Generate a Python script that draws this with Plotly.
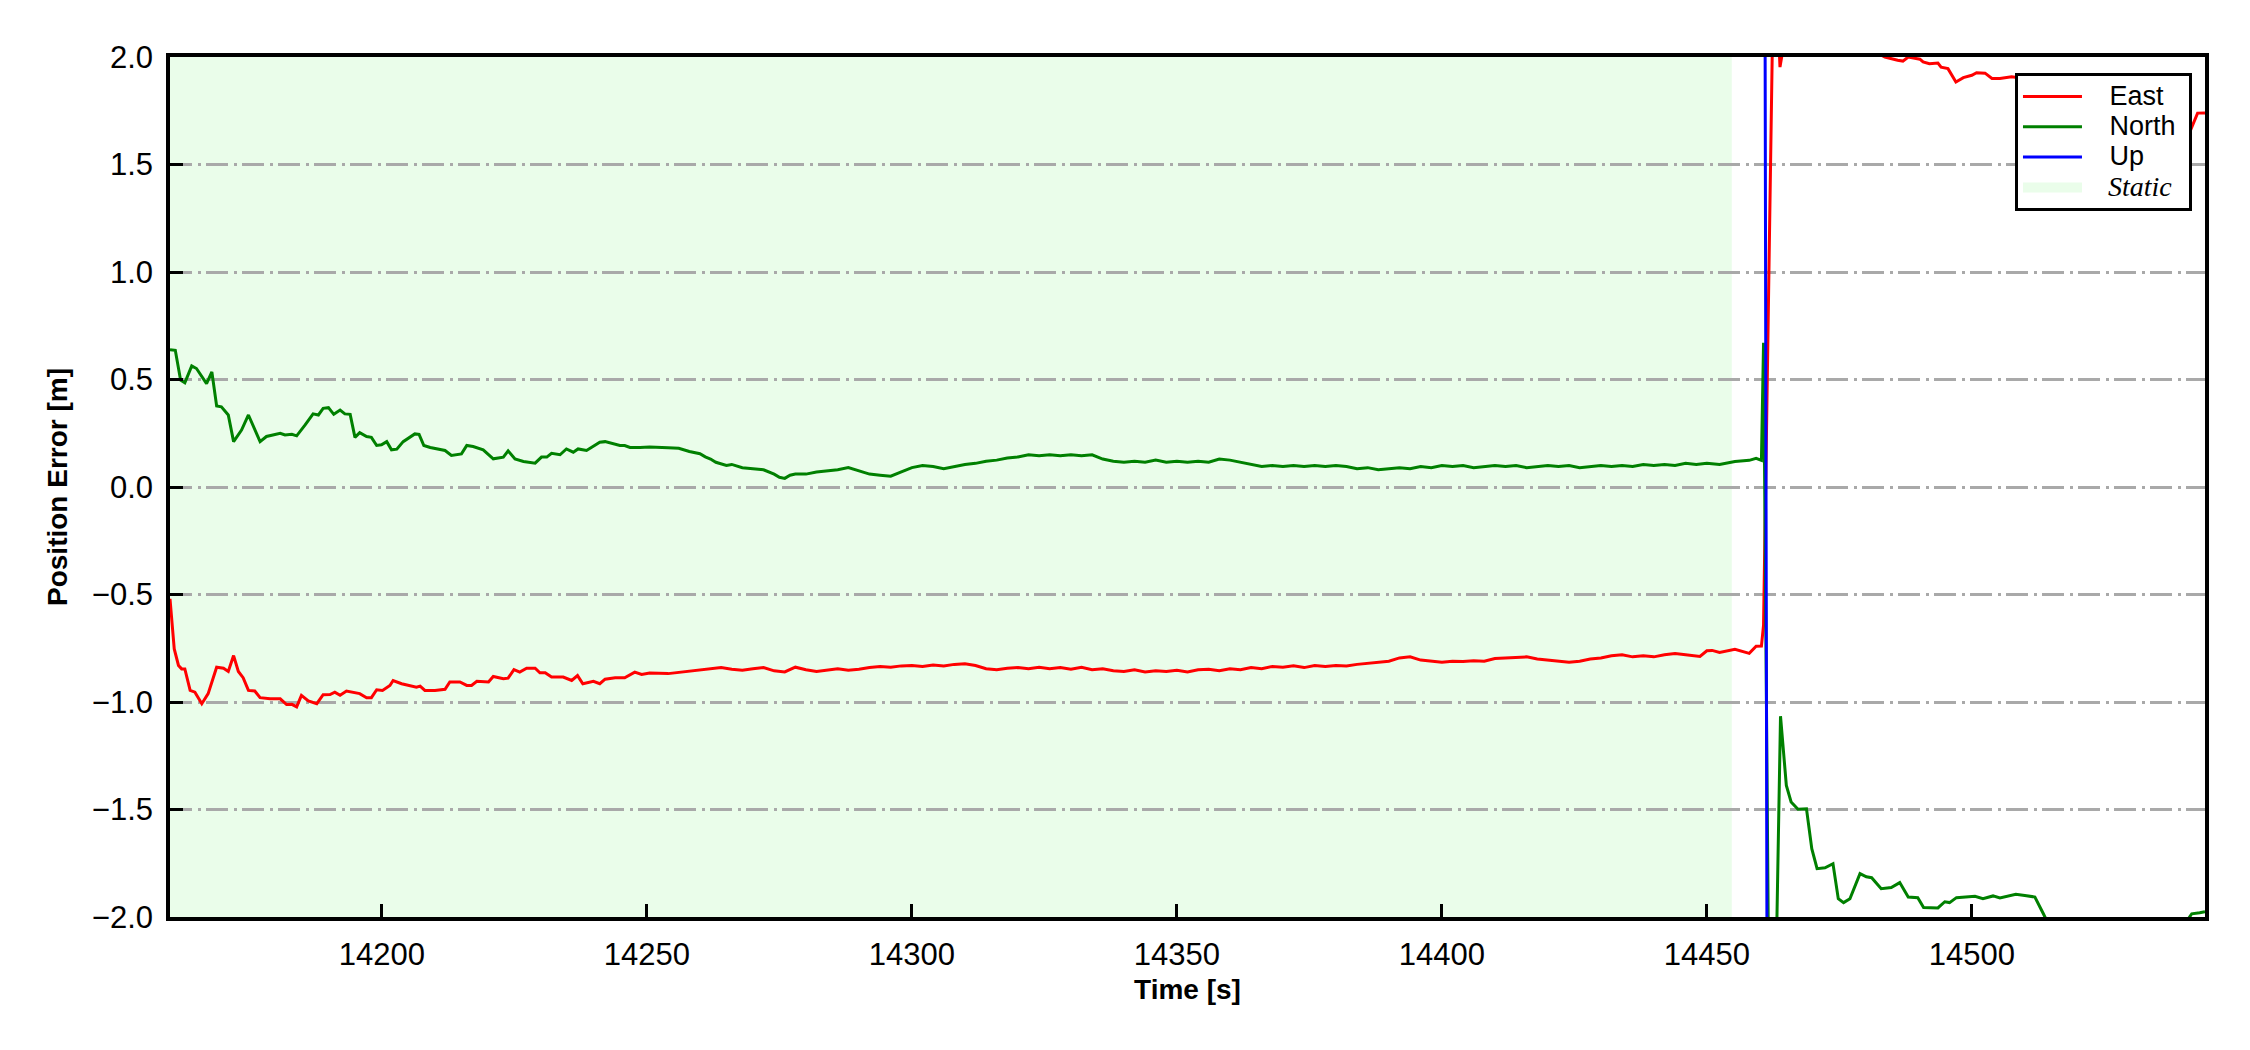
import plotly.graph_objects as go

# ---------------- data ----------------
east_t = [14160.0, 14160.8, 14161.6, 14162.2, 14162.8, 14163.8, 14164.7, 14166.0, 14167.2, 14168.8,
          14170.1, 14171.0, 14172.0, 14172.9, 14173.8, 14174.8, 14176.0, 14177.0, 14178.9, 14180.8,
          14182.0, 14183.0, 14183.9, 14184.8, 14186.1, 14187.7, 14188.9, 14190.2, 14191.1, 14192.1,
          14193.3, 14194.6, 14195.8, 14197.1, 14198.0, 14199.0, 14200.1, 14201.5, 14202.1, 14203.7,
          14205.3, 14206.5, 14207.2, 14208.1, 14210.0, 14211.9, 14212.8, 14214.7, 14216.0, 14216.9,
          14217.9, 14219.4, 14220.1, 14221.0, 14222.9, 14223.8, 14224.9, 14226.0, 14227.3, 14228.9,
          14229.8, 14230.8, 14232.0, 14234.2, 14235.8, 14236.9, 14237.9, 14239.9, 14241.1, 14242.1,
          14244.0, 14245.8, 14247.7, 14249.0, 14250.5, 14254, 14256, 14258, 14260, 14262,
          14264, 14266, 14268, 14270, 14272, 14274, 14276, 14278, 14280, 14282,
          14284, 14286, 14288, 14290, 14292, 14294, 14296, 14298, 14300, 14302,
          14304, 14306, 14308, 14310, 14312, 14314, 14316, 14318, 14320, 14322,
          14324, 14326, 14328, 14330, 14332, 14334, 14336, 14338, 14340, 14342,
          14344, 14346, 14348, 14350, 14352, 14354, 14356, 14358, 14360, 14362,
          14364, 14366, 14368, 14370, 14372, 14374, 14376, 14378, 14380, 14382,
          14384, 14386, 14388, 14390, 14392, 14394, 14396, 14398, 14400, 14402,
          14404, 14406, 14408, 14410, 14412, 14414, 14416, 14418, 14420, 14422,
          14424, 14426, 14428, 14430, 14432, 14434, 14436, 14438, 14440, 14442,
          14444, 14446, 14448.7, 14450, 14451, 14452.4, 14455.3, 14458, 14459.3, 14460.3,
          14460.7, 14462.7, 14463.8, 14464.8, 14466, 14468, 14470, 14472, 14474, 14476,
          14478, 14480, 14482, 14483.6, 14485, 14486, 14487, 14488, 14489, 14490.2,
          14490.8, 14492, 14493.6, 14494.2, 14495.5, 14497, 14498.4, 14500, 14500.9, 14502.5,
          14503.8, 14505.3, 14507.5, 14510, 14515, 14520, 14525, 14530, 14535, 14540,
          14541.3, 14542.6, 14544]
east_v = [-0.52, -0.753, -0.83, -0.846, -0.846, -0.946, -0.954, -1.008, -0.961, -0.838,
          -0.843, -0.858, -0.784, -0.858, -0.887, -0.946, -0.949, -0.98, -0.985, -0.985,
          -1.012, -1.011, -1.023, -0.969, -0.995, -1.008, -0.966, -0.965, -0.954, -0.969,
          -0.949, -0.954, -0.961, -0.98, -0.98, -0.943, -0.946, -0.923, -0.9, -0.915,
          -0.923, -0.931, -0.926, -0.946, -0.946, -0.941, -0.907, -0.907, -0.923, -0.923,
          -0.904, -0.904, -0.907, -0.881, -0.892, -0.889, -0.849, -0.861, -0.843, -0.843,
          -0.864, -0.864, -0.884, -0.884, -0.9, -0.877, -0.915, -0.904, -0.915, -0.894,
          -0.887, -0.887, -0.861, -0.872, -0.865, -0.868, -0.862, -0.855, -0.85, -0.845,
          -0.84, -0.848, -0.852, -0.845, -0.84, -0.855, -0.86, -0.838, -0.85, -0.858,
          -0.85, -0.845, -0.852, -0.848, -0.84, -0.835, -0.838, -0.832, -0.83, -0.835,
          -0.828, -0.832, -0.825, -0.822, -0.83, -0.845, -0.85, -0.843, -0.84, -0.845,
          -0.838, -0.845, -0.84, -0.848, -0.838, -0.85, -0.845, -0.855, -0.858, -0.85,
          -0.86, -0.855, -0.858, -0.852, -0.86, -0.85, -0.848, -0.855, -0.845, -0.85,
          -0.84, -0.845, -0.835, -0.838, -0.832, -0.84, -0.83, -0.835, -0.83, -0.832,
          -0.825, -0.82, -0.815, -0.81, -0.795, -0.79, -0.805, -0.81, -0.815, -0.81,
          -0.812, -0.808, -0.81, -0.798, -0.795, -0.792, -0.79, -0.8, -0.805, -0.81,
          -0.815, -0.81, -0.8, -0.795, -0.785, -0.78, -0.79, -0.785, -0.79, -0.78,
          -0.775, -0.78, -0.788, -0.762, -0.76, -0.77, -0.755, -0.774, -0.741, -0.74,
          -0.643, 2.6, 1.953, 2.1, 2.4, 2.35, 2.3, 2.25, 2.2, 2.15,
          2.1, 2.06, 2.02, 2.0, 1.99, 1.985, 1.981, 2.0, 1.995, 1.99,
          1.977, 1.969, 1.972, 1.953, 1.946, 1.884, 1.904, 1.915, 1.927, 1.925,
          1.9, 1.9, 1.908, 1.9, 1.88, 1.85, 1.8, 1.78, 1.72, 1.68,
          1.661, 1.739, 1.74]

north_t = [14160.0, 14161.0, 14162.0, 14162.8, 14164.1, 14165.0, 14166.9, 14167.9, 14168.8, 14169.7,
           14171.0, 14172.0, 14173.5, 14174.8, 14177.0, 14178.2, 14180.8, 14181.7, 14183.0, 14183.9,
           14185.5, 14187.0, 14188.0, 14188.9, 14189.9, 14190.9, 14192.1, 14193.0, 14194.0, 14194.9,
           14195.8, 14197.1, 14198.0, 14199.0, 14199.9, 14200.9, 14201.8, 14202.8, 14204.0, 14205.3,
           14206.2, 14207.0, 14207.9, 14209.1, 14210.3, 14211.9, 14213.1, 14215.0, 14216.0, 14217.2,
           14219.1, 14221.0, 14222.9, 14223.8, 14225.1, 14226.7, 14228.9, 14230.1, 14231.1, 14232.0,
           14233.6, 14234.8, 14236.1, 14237.0, 14238.6, 14239.9, 14241.1, 14242.1, 14243.6, 14244.9,
           14245.8, 14246.8, 14248.7, 14250.5, 14254, 14256, 14258, 14260, 14261, 14262,
           14263, 14265, 14266, 14268, 14270, 14272, 14274, 14275, 14276, 14277,
           14278, 14280, 14282, 14284, 14286, 14288, 14290, 14292, 14294, 14296,
           14298, 14300, 14302, 14304, 14306, 14308, 14310, 14312, 14314, 14316,
           14318, 14320, 14322, 14324, 14326, 14328, 14330, 14332, 14334, 14336,
           14338, 14340, 14342, 14344, 14346, 14348, 14350, 14352, 14354, 14356,
           14358, 14360, 14362, 14364, 14366, 14368, 14370, 14372, 14374, 14376,
           14378, 14380, 14382, 14384, 14386, 14388, 14390, 14392, 14394, 14396,
           14398, 14400, 14402, 14404, 14406, 14408, 14410, 14412, 14414, 14416,
           14418, 14420, 14422, 14424, 14426, 14428, 14430, 14432, 14434, 14436,
           14438, 14440, 14442, 14444, 14446, 14448, 14450, 14452.4, 14455.3, 14458,
           14459.3, 14460.3, 14460.7, 14461.9, 14462.8, 14463.9, 14465.0, 14465.9, 14467.2, 14468.8,
           14469.8, 14470.8, 14472.3, 14473.8, 14474.8, 14475.8, 14477.0, 14478.9, 14480.1, 14481.1,
           14482.9, 14484.8, 14486.4, 14488.0, 14489.8, 14490.9, 14493.6, 14494.9, 14495.8, 14497.1,
           14499.0, 14500.6, 14502.1, 14504.0, 14505.3, 14508.3, 14510.0, 14511.9, 14513.5, 14515,
           14518, 14522, 14526, 14530, 14534, 14538, 14540, 14541.5, 14543, 14544]
north_v = [0.639, 0.636, 0.497, 0.485, 0.563, 0.551, 0.481, 0.535, 0.377, 0.373,
           0.335, 0.211, 0.265, 0.335, 0.211, 0.235, 0.25, 0.242, 0.245, 0.238,
           0.289, 0.34, 0.335, 0.366, 0.369, 0.338, 0.358, 0.34, 0.338, 0.231,
           0.253, 0.235, 0.231, 0.193, 0.196, 0.211, 0.173, 0.176, 0.211, 0.23,
           0.247, 0.245, 0.193, 0.184, 0.177, 0.17, 0.147, 0.154, 0.193, 0.188,
           0.173, 0.131, 0.139, 0.168, 0.13, 0.119, 0.111, 0.139, 0.139, 0.157,
           0.15, 0.177, 0.162, 0.177, 0.17, 0.188, 0.208, 0.211, 0.2, 0.193,
           0.193, 0.184, 0.184, 0.186, 0.183, 0.18, 0.165, 0.155, 0.14, 0.13,
           0.115, 0.1, 0.105, 0.09, 0.085, 0.08, 0.06, 0.045, 0.04, 0.055,
           0.06, 0.06, 0.07, 0.075, 0.08, 0.09, 0.075, 0.06, 0.055, 0.05,
           0.07, 0.09, 0.1, 0.095, 0.085, 0.095, 0.105, 0.11, 0.12, 0.125,
           0.135, 0.14, 0.15, 0.145, 0.15, 0.145, 0.15, 0.145, 0.15, 0.13,
           0.12, 0.115, 0.12, 0.115, 0.125, 0.115, 0.12, 0.115, 0.12, 0.115,
           0.13, 0.125, 0.115, 0.105, 0.095, 0.1, 0.095, 0.1, 0.095, 0.1,
           0.095, 0.1, 0.095, 0.085, 0.09, 0.08, 0.085, 0.09, 0.085, 0.095,
           0.09, 0.1, 0.095, 0.1, 0.09, 0.095, 0.1, 0.095, 0.1, 0.09,
           0.095, 0.1, 0.095, 0.1, 0.09, 0.095, 0.1, 0.095, 0.1, 0.095,
           0.105, 0.1, 0.105, 0.1, 0.11, 0.105, 0.11, 0.105, 0.119, 0.124,
           0.133, 0.124, 0.671, -3.0, -2.6, -1.066, -1.388, -1.465, -1.499, -1.497,
           -1.682, -1.775, -1.771, -1.752, -1.915, -1.933, -1.915, -1.798, -1.813, -1.817,
           -1.868, -1.863, -1.84, -1.907, -1.91, -1.956, -1.958, -1.929, -1.933, -1.91,
           -1.907, -1.904, -1.915, -1.902, -1.911, -1.894, -1.9, -1.907, -1.985, -2.06,
           -2.12, -2.15, -2.13, -2.12, -2.1, -2.07, -2.04, -1.985, -1.98, -1.975]

up_t = [14160.0, 14460.7, 14461.7, 14544.0]
up_v = [5.2, 5.6, -6.4, -6.9]

static_start = 14160.0
static_end = 14454.7

x_range = [14160.0, 14544.0]
y_range = [-2.0, 2.0]
x_ticks = [14200, 14250, 14300, 14350, 14400, 14450, 14500]
y_ticks = [-2.0, -1.5, -1.0, -0.5, 0.0, 0.5, 1.0, 1.5, 2.0]

series_names = ["East", "North", "Up", "Static"]

# ---------------- figure ----------------
SANS = "Liberation Sans, Arial, Helvetica, sans-serif"
SERIF = "Liberation Serif, Times New Roman, serif"
STATIC_FILL = "#eafdea"


def legend_label(name, italic_serif=False):
    lead = "\u00a0\u00a0\u00a0"
    tail = "\u00a0"
    if italic_serif:
        return ('<span style="font-size:28px;font-family:%s">%s<i>%s</i>%s</span>'
                % (SERIF, lead, name, tail))
    return '<span style="font-size:27px">%s%s%s</span>' % (lead, name, tail)


fig = go.Figure()
fig.add_trace(go.Scatter(x=east_t, y=east_v, mode="lines", name=legend_label(series_names[0]),
                         line=dict(color="#ff0000", width=3)))
fig.add_trace(go.Scatter(x=north_t, y=north_v, mode="lines", name=legend_label(series_names[1]),
                         line=dict(color="#008000", width=3)))
fig.add_trace(go.Scatter(x=up_t, y=up_v, mode="lines", name=legend_label(series_names[2]),
                         line=dict(color="#0000ff", width=3)))
fig.add_trace(go.Scatter(x=[None], y=[None], mode="lines",
                         name=legend_label(series_names[3], italic_serif=True),
                         line=dict(color=STATIC_FILL, width=20)))

fig.add_shape(type="rect", xref="x", yref="paper", x0=static_start, x1=static_end,
              y0=0, y1=1, fillcolor=STATIC_FILL, line=dict(width=0), layer="below")

axis_common = dict(showline=True, linecolor="black", linewidth=3.5, mirror=True,
                   ticks="inside", ticklen=13, tickwidth=3, tickcolor="black",
                   zeroline=False, tickfont=dict(family=SANS, size=31, color="black"))

fig.update_layout(
    width=2242, height=1042,
    margin=dict(l=162, r=45, t=49, b=133),
    paper_bgcolor="white", plot_bgcolor="white",
    showlegend=True,
    legend=dict(x=0.9936, y=0.981, xanchor="right", yanchor="top",
                bgcolor="white", bordercolor="black", borderwidth=3,
                font=dict(family=SANS, size=21, color="black"),
                itemwidth=59, tracegroupgap=0),
    xaxis=dict(range=x_range, tickvals=x_ticks, tickformat="d", showgrid=False,
               ticklabelstandoff=7,
               title=dict(text="<b>Time [s]</b>", standoff=9,
                          font=dict(family=SANS, size=28, color="black")),
               **axis_common),
    yaxis=dict(range=y_range, tickvals=y_ticks, tickformat=".1f",
               showgrid=True, gridcolor="#a9a9a9", gridwidth=3,
               griddash="22px,6px,3px,5px", ticklabelstandoff=7,
               title=dict(text="<b>Position Error [m]</b>", standoff=17,
                          font=dict(family=SANS, size=28, color="black")),
               **axis_common),
)

fig.write_html("out.html")
